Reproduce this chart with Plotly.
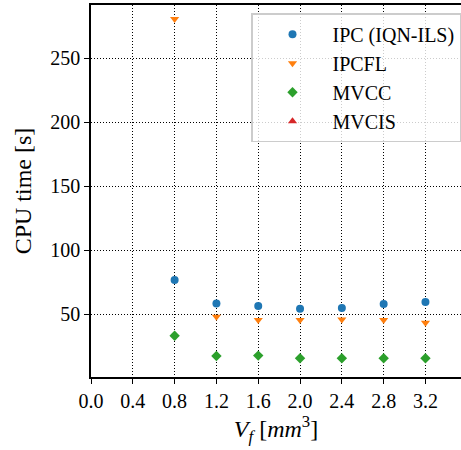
import plotly.graph_objects as go

vf = [0.8, 1.2, 1.6, 2.0, 2.4, 2.8, 3.2]
ipc = [76.5, 58.3, 56.2, 54.2, 54.7, 57.8, 59.4]
ipcfl = [280.5, 47.9, 45.3, 45.3, 45.8, 45.3, 43.2]
mvcc = [33.0, 17.2, 17.5, 15.4, 15.4, 15.4, 15.4]
mvcis = [None, None, None, None, None, None, None]

xticks = [0.0, 0.4, 0.8, 1.2, 1.6, 2.0, 2.4, 2.8, 3.2]
yticks = [50, 100, 150, 200, 250]

FONT = "Liberation Serif"

fig = go.Figure()
series = [
    ("IPC (IQN-ILS)", ipc, "#1f77b4", "circle"),
    ("IPCFL", ipcfl, "#ff7f0e", "triangle-down"),
    ("MVCC", mvcc, "#2ca02c", "diamond"),
    ("MVCIS", mvcis, "#d62728", "triangle-up"),
]
for name, ys, col, sym in series:
    fig.add_trace(go.Scatter(
        x=vf, y=ys, mode="markers", name=name,
        marker=dict(color=col, symbol=sym, size=8, line=dict(width=0)),
    ))

fig.update_layout(
    width=461, height=450,
    margin=dict(l=91, r=0, t=5, b=73),
    plot_bgcolor="white", paper_bgcolor="white",
    font=dict(family=FONT, size=20, color="black"),
    showlegend=True,
    legend=dict(
        x=1.0, y=0.978, xanchor="right", yanchor="top",
        bgcolor="rgba(255,255,255,0.8)", bordercolor="#cccccc", borderwidth=1.5,
        font=dict(family=FONT, size=20), itemwidth=70,
    ),
    xaxis=dict(
        range=[0, 3.54], tickvals=xticks, ticktext=[f"{v:.1f}" for v in xticks],
        showgrid=True, gridcolor="black", griddash="1px,2px", gridwidth=0.8,
        showline=True, linecolor="black", linewidth=1.5, mirror=True,
        ticks="outside", ticklen=5, tickwidth=1.2, tickcolor="black",
        zeroline=False,
        title=dict(text="<i>V<sub>f</sub></i> [<i>mm</i><sup>3</sup>]", standoff=6),
    ),
    yaxis=dict(
        range=[0.8, 291.4], tickvals=yticks,
        showgrid=True, gridcolor="black", griddash="1px,2px", gridwidth=0.8,
        showline=True, linecolor="black", linewidth=1.5,
        ticks="outside", ticklen=5, tickwidth=1.2, tickcolor="black",
        zeroline=False,
        title=dict(text="CPU time [s]", standoff=12),
    ),
)

fig.write_html("out.html")
